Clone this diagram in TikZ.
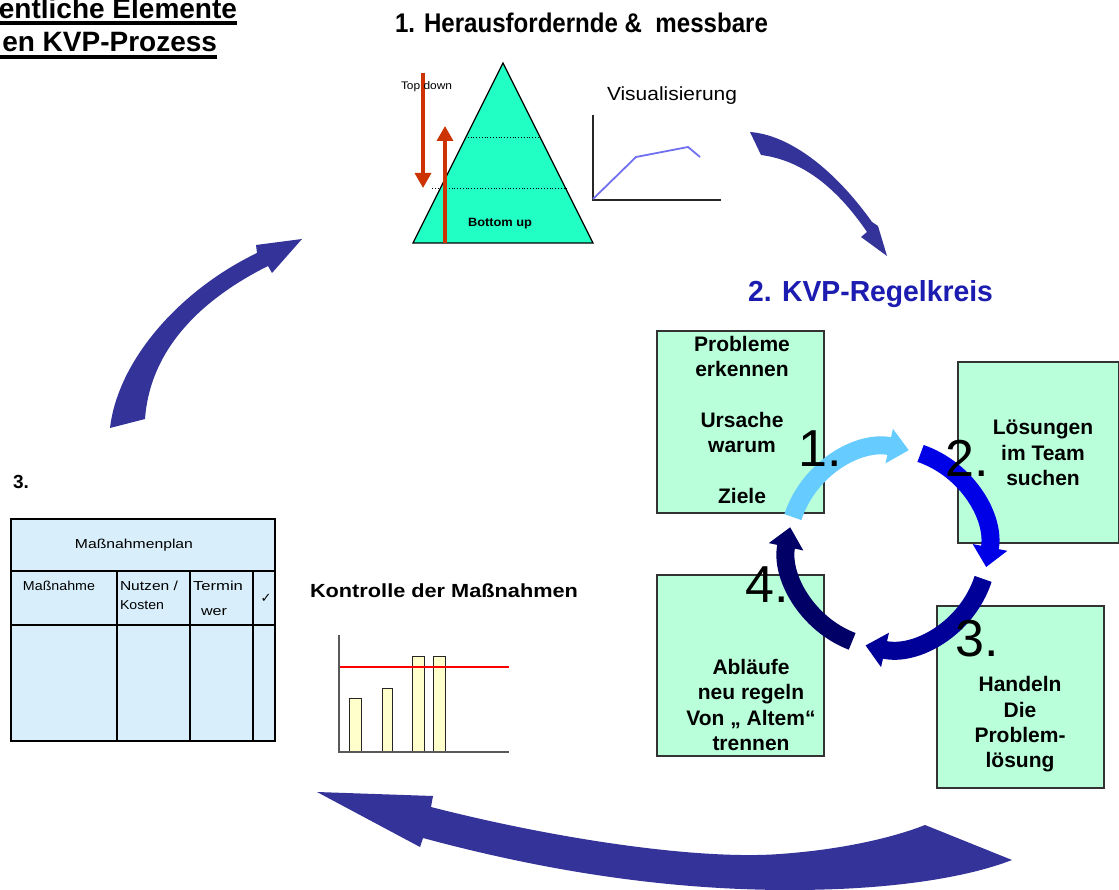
\documentclass[tikz,border=0pt]{standalone}
\usepackage{fontspec}
\setmainfont{Liberation Sans}
\newfontfamily\symfont{DejaVu Sans}
\usetikzlibrary{arrows.meta}
\definecolor{bigblue}{HTML}{333399}
\definecolor{mint}{HTML}{B8FFDA}
\definecolor{pyr}{HTML}{22FFC4}
\definecolor{redarrow}{HTML}{CC3300}
\definecolor{tablefill}{HTML}{D8EFFB}
\definecolor{barfill}{HTML}{FFFFCC}
\definecolor{lineblue}{HTML}{7070F0}
\definecolor{kvpblue}{HTML}{1C1CB0}
\definecolor{ringA}{HTML}{66CCFF}
\definecolor{ringB}{HTML}{0000E6}
\definecolor{ringC}{HTML}{000099}
\definecolor{ringD}{HTML}{000066}
\newcommand{\fitw}[2]{\resizebox{#1}{\height}{#2}}
\begin{document}
\begin{tikzpicture}[x=1pt,y=-1pt,
  txt/.style={inner sep=0pt, outer sep=0pt},
  boxtxt/.style={txt, font=\fontsize{21}{25.3}\selectfont\bfseries, align=center},
  bignum/.style={txt, font=\fontsize{52}{60}\selectfont},
  kvpbox/.style={draw=black!80, line width=1.5pt, fill=mint, inner sep=0pt, outer sep=0pt},
  bigarrow/.style={fill=bigblue},
  ringarrow/.style={line width=18pt, -{Triangle[width=34pt,length=20pt]}},
  tabline/.style={line width=1.3pt, draw=black},
  tabtxt/.style={txt, font=\fontsize{13}{15}\selectfont},
  redarr/.style={draw=redarrow, line width=3.3pt, -{Triangle[width=16pt,length=15pt]}},
]
\useasboundingbox (0,0) rectangle (1119,890);
\fill[white] (0,0) rectangle (1119,890);

% title top-left
\node[txt, anchor=base east, font=\fontsize{28}{30}\selectfont\bfseries] (t1) at (237,19) {entliche Elemente};
\node[txt, anchor=base east, font=\fontsize{28}{30}\selectfont\bfseries] (t2) at (217,52) {en KVP-Prozess};
\draw[line width=3.5pt] (0,22.8) -- (237,22.8);
\draw[line width=3.5pt] (0,57) -- (217,57);

% heading 1
\node[txt, anchor=base west, font=\fontsize{27}{30}\selectfont\bfseries] (h1) at (395,33) {\fitw{373pt}{1. Herausfordernde \&\ \ messbare}};

% pyramid
\draw[fill=pyr, line width=1.3pt] (503,63) -- (593,243) -- (413,243) -- cycle;
\draw[dotted, line width=0.8pt] (465,137) -- (540,137);
\draw[dotted, line width=0.8pt] (432,188) -- (567,188);
\draw[redarr] (423,73) -- (423,188);
\draw[redarr] (445,243) -- (445,126);
\node[txt, anchor=base west, font=\fontsize{11}{12}\selectfont] (td) at (401,90) {\fitw{51pt}{Top down}};
\node[txt, anchor=base west, font=\fontsize{12}{12}\selectfont\bfseries] (bu) at (468,227) {\fitw{64pt}{Bottom up}};

% Visualisierung
\node[txt, anchor=base west, font=\fontsize{19}{22}\selectfont] (vis) at (607,101) {\fitw{130pt}{Visualisierung}};
\draw[line width=1.3pt, black!85] (593,115) -- (593,200) -- (721,200);
\draw[lineblue, line width=1.8pt] (593,199) -- (636,157) -- (688,147) -- (700,157);

% big arrows
\fill[bigarrow] (750,132) .. controls (790,135) and (835,170) .. (872,222) -- (878,226) -- (887,256) -- (861,237) -- (867,232) .. controls (835,185) and (800,160) .. (761,155) -- cycle;
\fill[bigarrow] (110,428) .. controls (118,360) and (180,290) .. (257,253) -- (256,245) -- (302,239) -- (272,273) -- (268,266) .. controls (200,300) and (150,350) .. (145,419) -- cycle;
\fill[bigarrow] (317,792) -- (433,796) -- (431,807) .. controls (560,840) and (700,860) .. (780,854) .. controls (850,849) and (900,835) .. (925,825) -- (1012,860) .. controls (960,880) and (880,890) .. (790,890) .. controls (680,890) and (560,875) .. (423,838) -- (420,847) -- cycle;

% heading 2
\node[txt, anchor=base west, text=kvpblue, font=\fontsize{29}{32}\selectfont\bfseries] (h2) at (748,302) {\fitw{245pt}{2. KVP-Regelkreis}};

% boxes
\node[kvpbox, minimum width=167pt, minimum height=182pt] (b1) at (740.5,422) {};
\node[kvpbox, minimum width=161pt, minimum height=181pt] (b2) at (1038.5,452.5) {};
\node[kvpbox, minimum width=167pt, minimum height=182pt] (b3) at (1020.5,697) {};
\node[kvpbox, minimum width=167pt, minimum height=181pt] (b4) at (740.5,665.5) {};
\node[boxtxt] (bt1) at (742,420) {Probleme\\erkennen\\[25.3pt]Ursache\\warum\\[25.3pt]Ziele};
\node[boxtxt] (bt2) at (1043,453) {Lösungen\\im Team\\suchen};
\node[boxtxt] (bt3) at (1020,724.5) {Handeln\\Die\\Problem-\\lösung};
\node[boxtxt] (bt4) at (751,705) {Abläufe\\neu regeln\\Von „ Altem“\\trennen};

% ring
\begin{scope}[shift={(888,548)}]
\draw[ringarrow, ringA] (162:100pt) arc[start angle=162, end angle=78, radius=100pt];
\draw[ringarrow, ringB] (71:100pt) arc[start angle=71, end angle=-11, radius=100pt];
\draw[ringarrow, ringC] (-18:100pt) arc[start angle=-18, end angle=-103, radius=100pt];
\draw[ringarrow, ringD] (-111:100pt) arc[start angle=-111, end angle=-192, radius=100pt];
\end{scope}
\node[bignum] (n1) at (820,449) {1.};
\node[bignum] (n2) at (967,458) {2.};
\node[bignum] (n3) at (977,639) {3.};
\node[bignum] (n4) at (767,585) {4.};

% table
\node[txt, anchor=base west, font=\fontsize{19}{20}\selectfont\bfseries] (n3t) at (13,488) {3.};
\draw[tabline, fill=tablefill] (11,519) rectangle (275,741);
\draw[tabline] (11,571) -- (275,571);
\draw[tabline] (11,625) -- (275,625);
\draw[tabline] (117,571) -- (117,741);
\draw[tabline] (190,571) -- (190,741);
\draw[tabline] (253,571) -- (253,741);
\node[tabtxt, anchor=base] (tp) at (134,548) {\fitw{118pt}{Maßnahmenplan}};
\node[tabtxt, anchor=base west] (tm) at (23,590) {\fitw{72pt}{Maßnahme}};
\node[tabtxt, anchor=base west] (tn) at (120,590) {\fitw{58pt}{Nutzen /}};
\node[tabtxt, anchor=base west] (tk) at (120,609) {\fitw{44pt}{Kosten}};
\node[tabtxt, anchor=base west] (tt) at (193,590) {\fitw{50pt}{Termin}};
\node[tabtxt, anchor=base west] (tw) at (201,615) {\fitw{26pt}{wer}};
\node[txt, font=\symfont\fontsize{13}{14}\selectfont] (tc) at (266,598) {✓};

% Kontrolle
\node[txt, anchor=base west, font=\fontsize{19}{22}\selectfont\bfseries] (kt) at (310,597) {\fitw{268pt}{Kontrolle der Maßnahmen}};
\draw[fill=barfill, line width=1pt, draw=black!85] (349,698) rectangle (361,752);
\draw[fill=barfill, line width=1pt, draw=black!85] (382,688) rectangle (392,752);
\draw[fill=barfill, line width=1pt, draw=black!85] (412,656) rectangle (424,752);
\draw[fill=barfill, line width=1pt, draw=black!85] (433,656) rectangle (445,752);
\draw[red, line width=1.3pt] (339,667) -- (509,667);
\draw[line width=1.3pt, black!65] (339,635) -- (339,752) -- (509,752);
\end{tikzpicture}
\end{document}
